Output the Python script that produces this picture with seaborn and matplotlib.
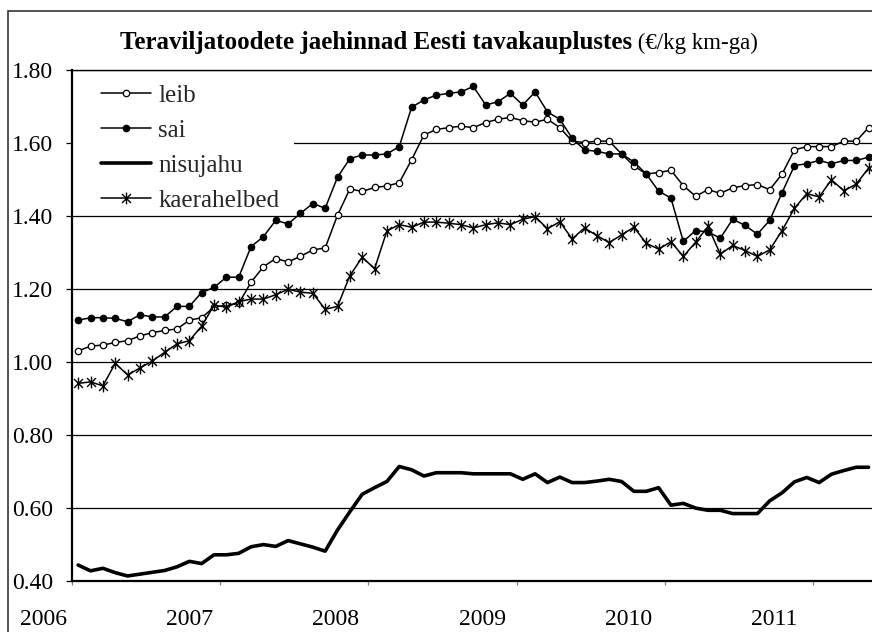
import numpy as np
import pandas as pd
import seaborn as sns
import matplotlib.pyplot as plt
from matplotlib.path import Path
from matplotlib.patches import Rectangle

# Kuuandmed: jaanuar 2006 ... mai 2011 (65 kuud), €/kg
leib = [1.030, 1.043, 1.046, 1.053, 1.058, 1.071, 1.080, 1.086, 1.090, 1.114,
        1.121, 1.150, 1.155, 1.160, 1.218, 1.261, 1.283, 1.274, 1.289, 1.307,
        1.312, 1.402, 1.474, 1.467, 1.478, 1.482, 1.491, 1.554, 1.622, 1.637,
        1.642, 1.646, 1.642, 1.656, 1.665, 1.670, 1.661, 1.657, 1.665, 1.642,
        1.605, 1.601, 1.605, 1.605, 1.570, 1.537, 1.515, 1.519, 1.525, 1.483,
        1.454, 1.472, 1.462, 1.477, 1.483, 1.486, 1.472, 1.515, 1.581, 1.590,
        1.590, 1.590, 1.605, 1.605, 1.642]
sai = [1.114, 1.121, 1.121, 1.119, 1.110, 1.129, 1.123, 1.123, 1.152, 1.152,
       1.190, 1.204, 1.232, 1.232, 1.316, 1.343, 1.388, 1.378, 1.407, 1.434,
       1.421, 1.506, 1.557, 1.567, 1.567, 1.570, 1.590, 1.698, 1.718, 1.731,
       1.736, 1.740, 1.755, 1.704, 1.713, 1.736, 1.704, 1.740, 1.685, 1.665,
       1.613, 1.581, 1.577, 1.570, 1.570, 1.548, 1.515, 1.468, 1.449, 1.330,
       1.360, 1.356, 1.339, 1.391, 1.374, 1.350, 1.388, 1.464, 1.538, 1.543,
       1.552, 1.543, 1.552, 1.552, 1.561]
nisujahu = [0.443, 0.427, 0.434, 0.422, 0.413, 0.418, 0.423, 0.428, 0.438, 0.453,
            0.447, 0.471, 0.471, 0.475, 0.493, 0.499, 0.494, 0.510, 0.501, 0.492,
            0.481, 0.539, 0.589, 0.637, 0.655, 0.672, 0.713, 0.704, 0.687, 0.696,
            0.696, 0.696, 0.693, 0.693, 0.693, 0.693, 0.678, 0.693, 0.669, 0.684,
            0.669, 0.669, 0.673, 0.678, 0.672, 0.645, 0.645, 0.655, 0.607, 0.612,
            0.599, 0.593, 0.593, 0.584, 0.584, 0.584, 0.619, 0.641, 0.671, 0.683,
            0.669, 0.692, 0.702, 0.711, 0.711]
kaerahelbed = [0.941, 0.945, 0.934, 0.996, 0.964, 0.983, 1.002, 1.026, 1.049, 1.058,
               1.098, 1.155, 1.150, 1.165, 1.172, 1.172, 1.184, 1.199, 1.191, 1.188,
               1.144, 1.152, 1.236, 1.287, 1.255, 1.359, 1.376, 1.369, 1.383, 1.383,
               1.380, 1.376, 1.367, 1.376, 1.381, 1.376, 1.391, 1.398, 1.365, 1.384,
               1.337, 1.367, 1.346, 1.327, 1.348, 1.369, 1.325, 1.309, 1.329, 1.289,
               1.328, 1.371, 1.295, 1.319, 1.305, 1.289, 1.307, 1.360, 1.421, 1.461,
               1.452, 1.499, 1.469, 1.487, 1.531]
kuu = list(range(len(leib)))

aastad = ["2006", "2007", "2008", "2009", "2010", "2011"]
aasta_piirid = [-0.5, 11.5, 23.5, 35.5, 47.5, 59.5]
aasta_silt_x = [-2.77, 9.05, 20.87, 32.78, 44.6, 56.4]

sns.set_theme(style="white")
plt.rcParams["font.family"] = ["Liberation Serif", "DejaVu Serif"]

fig = plt.figure(figsize=(8.72, 6.32), dpi=100)
ax = fig.add_axes([72 / 872, 1 - 580.7 / 632, 800 / 872, 510.7 / 632])

# Exceli "tärn" marker: püstjoon + X
taht = Path([(0, 1), (0, -1), (-0.75, 0.75), (0.75, -0.75), (-0.75, -0.75), (0.75, 0.75)],
            [Path.MOVETO, Path.LINETO] * 3)

sns.lineplot(x=kuu, y=leib, ax=ax, color="black", lw=1.1, marker="o", markersize=4.6,
             markerfacecolor="white", markeredgecolor="black", markeredgewidth=0.9,
             label="leib", zorder=3)
sns.lineplot(x=kuu, y=sai, ax=ax, color="black", lw=1.1, marker="o", markersize=4.6,
             markerfacecolor="black", markeredgecolor="black", markeredgewidth=0.9,
             label="sai", zorder=3)
sns.lineplot(x=kuu, y=nisujahu, ax=ax, color="black", lw=2.6, label="nisujahu", zorder=3)
sns.lineplot(x=kuu, y=kaerahelbed, ax=ax, color="black", lw=1.1, marker=taht, markersize=8.5,
             markeredgecolor="black", markeredgewidth=1.0, label="kaerahelbed", zorder=3)

ax.set_xlim(-0.5, 64.28)
ax.set_ylim(0.4, 1.8)
ax.set_yticks(np.arange(0.4, 1.81, 0.2))
ax.yaxis.set_major_formatter(plt.FormatStrFormatter("%.2f"))
ax.set_xticks(aasta_piirid)
ax.set_xticklabels([])
ax.set_xlabel("")
ax.set_ylabel("")

ax.set_axisbelow(True)
ax.yaxis.grid(True, color="black", lw=0.9)
ax.xaxis.grid(False)

ax.tick_params(axis="y", left=True, direction="out", length=4.5, width=0.9,
               color="black", pad=9.0, labelsize=17, labelcolor="black")
ax.tick_params(axis="x", bottom=True, direction="out", length=3, width=0.9, color="gray")

for s in ["left", "bottom"]:
    ax.spines[s].set_color("black")
    ax.spines[s].set_linewidth(1.6)
ax.spines["top"].set_color("black")
ax.spines["top"].set_linewidth(1.0)
ax.spines["right"].set_visible(False)

for xs, lab in zip(aasta_silt_x, aastad):
    ax.text(xs, -0.0765, lab, transform=ax.get_xaxis_transform(), ha="center", va="center",
            fontsize=17, color="black", clip_on=False)

# legendi valge taust katab 1.60 ruudujoone
ax.add_patch(Rectangle((0, 0.726), 0.2775, 0.26, transform=ax.transAxes,
                       facecolor="white", edgecolor="none", zorder=1.5))
ax.legend(loc="upper left", bbox_to_anchor=(0.0359, 0.972), frameon=False, fontsize=18,
          handlelength=2.0, handletextpad=0.3, labelspacing=0.5, borderaxespad=0, borderpad=0)

t1 = fig.text(120 / 872, 1 - 42 / 632, "Teraviljatoodete jaehinnad Eesti tavakauplustes",
              fontsize=18, fontweight="bold", ha="left", va="center", color="black")
ax.annotate(" (€/kg km-ga)", xy=(1, 0), xycoords=t1, ha="left", va="bottom",
            fontsize=16.5, color="black", annotation_clip=False)

fig.add_artist(Rectangle((8 / 872, -0.05), 1.2, (632 - 11) / 632 + 0.05,
                         transform=fig.transFigure, fill=False, edgecolor="#333333", lw=1.2))

plt.savefig("out.png", dpi=100)
